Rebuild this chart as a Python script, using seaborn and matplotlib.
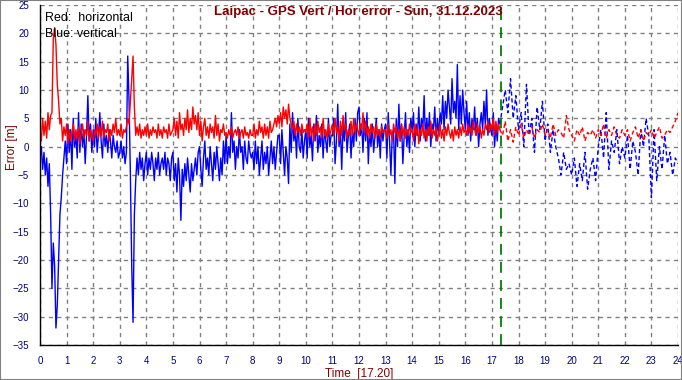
import numpy as np
import pandas as pd
import matplotlib
matplotlib.use("Agg")
import matplotlib.pyplot as plt
from matplotlib.patches import Rectangle
from matplotlib.ticker import MultipleLocator
import seaborn as sns

# horizontal error [m] before the marker, one row per hour, 3-minute samples
hor_solid = [
    3, 1, 5, 2, 4.5, 1.5, 6, 3, 5.5, 6, 19, 21, 18, 11, 8, 4, 5, 1, 3.5, 2,
    4, 0.5, 3, 1, 2.5, 4, 1, 3, 1.5, 3.5, 0.5, 2.5, 4, 1.5, 3, 2, 4.5, 1, 3, 2,
    1, 3, 2, 4, 1.5, 3.5, 2, 4.5, 1.5, 3, 2.5, 4, 1, 3, 2, 4, 2.5, 5, 2, 3,
    2, 4, 1.5, 3, 2.5, 3.5, 5, 4, 8, 12, 16, 7, 2, 3.5, 2, 4, 1.5, 3, 2, 3.5,
    2, 4, 1.5, 3, 2, 3.5, 2.5, 3, 1.5, 4, 2, 3, 1.5, 3.5, 2.5, 3, 1.5, 4, 2, 2.5,
    3, 5, 2, 4.5, 1.5, 6, 3, 4, 2, 5, 3, 6.5, 2.5, 5, 3, 7, 4, 5.5, 3, 6,
    2, 4.5, 1, 3.5, 5, 2, 3.5, 1.5, 4, 2.5, 3.5, 1.5, 5.5, 2, 4, 1, 3, 2.5, 4, 2,
    2.5, 1.5, 3, 2, 3.5, 1.5, 2.5, 3, 2, 3.5, 1.5, 2.5, 3, 1.5, 3.5, 2, 2.5, 1.5, 3, 2,
    2, 4, 1.5, 3, 2, 4.5, 2.5, 3.5, 1.5, 4, 2, 3.5, 1.5, 4.5, 2.5, 3, 4, 5, 3.5, 5.5,
    4, 6, 3.5, 7, 5, 6.5, 4, 7.5, 5, 4, 3, 4.5, 2, 4, 2.5, 3.5, 2, 4, 2.5, 3,
    2.5, 4, 1.5, 5, 2, 3.5, 1, 4, 2, 4.5, 2.5, 3.5, 1.5, 5, 2, 3, 1.5, 4, 2, 3,
    4, 2, 5, 2.5, 3.5, 1, 4.5, 2, 5.5, 3, 4, 1.5, 3, 2, 4.5, 2, 5, 2.5, 4, 3,
    2, 4, 3, 6, 2.5, 4.5, 2, 3.5, 1.5, 4, 2.5, 3.5, 1.5, 4, 2, 3, 1.5, 3.5, 2.5, 3,
    3, 1.5, 4, 2, 3, 1, 4, 2.5, 3.5, 1.5, 3, 1, 4, 2, 3.5, 1.5, 3, 2, 4, 2.5,
    3, 1, 4, 2, 3.5, 0.5, 3, 2, 4, 1.5, 3, 1, 3.5, 2, 4.5, 1.5, 3, 2, 3.5, 1,
    2.5, 4, 1.5, 3, 1, 3.5, 2, 4, 2.5, 1.5, 3, 1, 3.5, 2, 3, 1.5, 3.5, 2, 4, 2.5,
    3, 2, 4, 2.5, 3.5, 2, 4.5, 3, 2, 4, 2.5, 3.5, 1.5, 3, 2, 4, 3, 4.5, 2.5, 4,
    3, 5, 2, 4.5, 2.5, 4, 3,
]

# vertical error [m] before the marker
ver_solid = [
    -2, 0, -4, -1, -5, -2, -7, -3, -12, -25, -17, -21, -32, -28, -20, -12, -9, -5, -2, 1,
    -3, 4, -1, 3, -4, 5, 0, 2, -2, 6, -1, 4, 0, 3, -3, 2, 9, 1, 4, -1,
    3, 0, 5, -1, 2, 6, 1, -2, 4, 0, 2, -1, 3, 1, -2, 2, 0, -1, 1, -2,
    -1, 1, -2, 0, -3, -1, 16, 8, -5, -21, -31, -12, -6, -2, -5, -1, -4, -2, -6, -3,
    -1, -5, -2, -4, -1, -3, -6, -2, -4, -1, -5, -3, -2, -4, -1, -5, -2, -3, -6, -2,
    -1, -6, -3, -8, -2, -5, -13, -4, -7, -3, -6, -2, -5, -8, -3, -6, -4, -2, -5, -1,
    0, -4, -7, -2, 1, -4, -2, -5, 0, -3, -6, -1, -4, 0, -3, -6, -2, -5, 1, -3,
    2, -3, 0, -2, 6, -1, 1, -4, 0, -2, 3, -1, 0, -4, 1, -2, -3, 1, -1, -2,
    -1, -4, 1, -3, 0, -5, -2, 1, -4, -1, -3, 0, -5, -2, 1, -3, 0, -4, -1, 2,
    2, -3, 3, -1, -5, 0, -2, -6.5, 4, -1, 6, 1, 3, -2, 5, 0, -1, 3, -2, 1,
    3, -2, 5, 0, 2, -2.5, 4, 1, 5.5, -1, 2, 0, 4, -2, 3, 1, -1, 5, 0, 2,
    2, 5, -3, 1, 7.5, 0, 3, -4, 4, 1, 6, -1, 2, 4, -2, 3, 0, 5, 1, 6,
    7, 2, 4, -1, 5, 1, 6, -3, 3, 0, 4, -1, 2, 5, 0, 3, -2, 4, 1, 3,
    4, -2, 6, 1, -5, 2, 3, -6.5, 5, 0, 7.5, 1, 4, -3, 2, 6, 0, 3, -1, 5,
    3, 6, 0, 4, 2, 7, 1, 5, 3, 9, 1, 5, 2, 6, 0, 4, 3, 7, 1, 5,
    2, 6, 4, 9, 3, 8, 5, 10, 7, 4, 12, 6, 8, 5, 14.5, 3, 9, 4, 10, 6,
    3, 8, 2, 6, 1, 5, 3, 7, 2, 5, 0, 4, 6, 3, 8, 4, 10, 2, 5, 3,
    2, 6, 0, 4, 1, 5, 4,
]

# after the marker the samples are sparse (drawn broken), 6-minute samples
hor_dash = [
    3,
    2, 4.5, 1, 3, 0.8, 3.5,
    2, 4, 1.5, 3, 2, 3.5, 1.5, 3, 2.5, 4,
    2, 3, 1.5, 4, 2, 3, 2.5, 1.5, 5.5, 3,
    2, 1, 3, 2, 3.5, 1, 2.5, 2, 3, 1.5,
    3, 2, 4, 1.5, 3, 2, 3.5, 2, 1.5, 3,
    2, 3, 1, 2.5, 3.5, 1.5, 3, 1, 2.5, 2,
    3, 1.5, 2.5, 3.5, 1.5, 2, 3, 2.5, 3.5, 4.5,
    6,
]
ver_dash = [
    4,
    7, 10, 6, 12, 5, 9,
    3, 6, 0, 11, 2, 5, -1, 7, 3, 8,
    1, 4, -1, 3, 0, -2, -5, -1, -4, -3,
    -5, -2, -7, -3, -6, -1, -7.5, -4, -2, -6,
    0, 3, -2, 6, -4, 1, -1, 3, -3, 0,
    -2, 2, -4, 1, -1, -5, 3, 0, 5, 2,
    -9, 3, -6, 0, -4, 2, -3, -1, -5, -2,
    -3,
]

# sample times in hours
t_solid = np.round(np.arange(len(hor_solid)) * 0.05, 2)        # 0.00 .. 17.30
t_dash = np.round(17.3 + np.arange(len(hor_dash)) * 0.1, 1)   # 17.3 .. 24.0

marker_time = 17 + 20 / 60
y_ticks = list(range(-35, 30, 5))
x_ticks = list(range(0, 25))

sns.set_style("white")
plt.rcParams['font.family'] = ['Liberation Sans', 'DejaVu Sans']

navy = '#000080'
dark_red = '#800000'

fig = plt.figure(figsize=(6.82, 3.80), dpi=100)
ax = fig.add_axes([40 / 682, 35 / 380, 638 / 682, 340 / 380])

solid = pd.DataFrame({'t': t_solid, 'hor': hor_solid, 'ver': ver_solid})
dash = pd.DataFrame({'t': t_dash, 'hor': hor_dash, 'ver': ver_dash})

sns.lineplot(data=solid, x='t', y='ver', color='#0000ff', lw=1, estimator=None, ax=ax)
sns.lineplot(data=solid, x='t', y='hor', color='#ff0000', lw=1, estimator=None, ax=ax)
sns.lineplot(data=dash, x='t', y='ver', color='#0000ff', lw=1, estimator=None, ax=ax,
             linestyle=(0, (3, 2)))
sns.lineplot(data=dash, x='t', y='hor', color='#ff0000', lw=1, estimator=None, ax=ax,
             linestyle=(0, (3, 2)))

ax.axvline(marker_time, color='#008000', lw=1.3, dashes=(6, 4), zorder=3)

ax.set_xlim(0, 24)
ax.set_ylim(-35, 25)
ax.set_xticks(x_ticks)
ax.set_yticks(y_ticks)
ax.xaxis.set_minor_locator(MultipleLocator(1 / 6))
ax.yaxis.set_minor_locator(MultipleLocator(1))
ax.grid(True, which='major', color='#808080', lw=1, linestyle=(0, (3, 3)))
ax.set_axisbelow(True)

for side in ['top', 'right']:
    ax.spines[side].set_visible(False)
for side in ['left', 'bottom']:
    ax.spines[side].set_color('black')
    ax.spines[side].set_linewidth(1)

ax.tick_params(axis='both', which='major', direction='out', length=6, width=1,
               color='black', labelcolor=navy, labelsize=7, pad=2)
ax.tick_params(axis='both', which='minor', direction='out', length=4, width=1,
               color='black')

ax.set_xlabel('Time  [17.20]', color=dark_red, fontsize=8.5, labelpad=1)
ax.set_ylabel('')
fig.text(12 / 682, 1 - 147 / 380, 'Error [m]', rotation=90, ha='center', va='center',
         color=dark_red, fontsize=8.5)

fig.text(358 / 682, 1 - 12 / 380, 'Laipac - GPS Vert / Hor error - Sun, 31.12.2023',
         ha='center', va='center', color=dark_red, fontsize=9.5, fontweight='bold')
fig.text(45 / 682, 1 - 18 / 380, 'Red:  horizontal', ha='left', va='center',
         color='black', fontsize=9)
fig.text(45 / 682, 1 - 34 / 380, 'Blue: vertical', ha='left', va='center',
         color='black', fontsize=9)

fig.patches.append(Rectangle((0, 0), 1, 1, transform=fig.transFigure, fill=False,
                             edgecolor='#808080', lw=1.5))

fig.savefig('out.png', dpi=100)
